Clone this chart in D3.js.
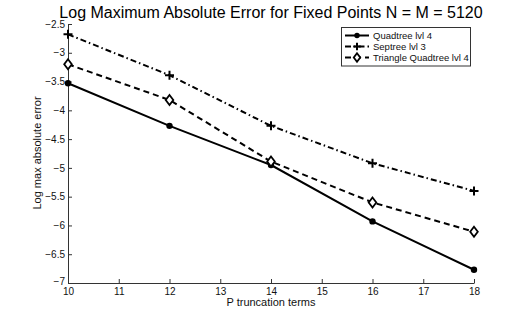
<!DOCTYPE html>
<html><head><meta charset="utf-8">
<script src="https://cdn.jsdelivr.net/npm/d3@7"></script>
<style>
body{margin:0;background:#fff;}
text{font-family:"Liberation Sans",Arial,Helvetica,sans-serif;}
</style></head>
<body><svg id="c" width="524" height="318"></svg>
<script>
const pTerms = [10, 12, 14, 16, 18];
const quadtree = [-3.53, -4.27, -4.95, -5.93, -6.77];
const septree = [-2.68, -3.39, -4.27, -4.92, -5.40];
const triangle = [-3.20, -3.82, -4.89, -5.60, -6.11];
const xTicks = [10, 11, 12, 13, 14, 15, 16, 17, 18];
const yTicks = [-2.5, -3, -3.5, -4, -4.5, -5, -5.5, -6, -6.5, -7];
const seriesNames = ["Quadtree lvl 4", "Septree lvl 3", "Triangle Quadtree lvl 4"];

const svg = d3.select("#c");
const L = 68, R = 474, T = 24, B = 283;
const x = d3.scaleLinear().domain([10, 18]).range([L, R]);
const y = d3.scaleLinear().domain([-7, -2.5]).range([B, T]);
const fmt = v => String(v).replace("-", "\u2212");

// axes
const xa = svg.append("g").attr("transform", `translate(0,${B})`)
  .call(d3.axisBottom(x).tickValues(xTicks).tickSizeInner(-4).tickSizeOuter(0).tickPadding(5).tickFormat(d => d));
const ya = svg.append("g").attr("transform", `translate(${L},0)`)
  .call(d3.axisLeft(y).tickValues(yTicks).tickSizeInner(-4).tickSizeOuter(0).tickPadding(3).tickFormat(fmt));
[xa, ya].forEach(a => {
  a.select(".domain").attr("stroke", "#333").attr("stroke-width", 1);
  a.selectAll(".tick line").attr("stroke", "#333");
  a.selectAll("text").attr("font-size", 10).attr("fill", "#111")
    .attr("font-family", "'Liberation Sans',Arial,sans-serif");
});
ya.selectAll(".tick").filter(d => d === -7).select("text").attr("dy", "0.1em");

// title and labels
svg.append("text").attr("x", 271).attr("y", 18).attr("text-anchor", "middle")
  .attr("font-size", 16).attr("fill", "#000").text("Log Maximum Absolute Error for Fixed Points N = M = 5120");
svg.append("text").attr("x", 271).attr("y", 306).attr("text-anchor", "middle")
  .attr("font-size", 11).attr("fill", "#111").text("P truncation terms");
svg.append("text").attr("transform", "translate(41,153) rotate(-90)").attr("text-anchor", "middle")
  .attr("font-size", 11).attr("fill", "#111").text("Log max absolute error");

const styles = [
  {data: quadtree, dash: null, marker: "circle"},
  {data: septree, dash: "6,3,1.5,3", marker: "plus"},
  {data: triangle, dash: "6,4", marker: "diamond"}
];
function drawMarker(g, type, cx, cy, k) {
  k = k || 1;
  if (type === "circle") {
    g.append("circle").attr("cx", cx).attr("cy", cy).attr("r", 3.2 * k).attr("fill", "#000");
  } else if (type === "plus") {
    g.append("path").attr("d", `M${cx-4.5*k},${cy}H${cx+4.5*k}M${cx},${cy-4.5*k}V${cy+4.5*k}`)
      .attr("stroke", "#000").attr("stroke-width", 2).attr("fill", "none");
  } else {
    g.append("path").attr("d", `M${cx},${cy-5*k}L${cx+3.8*k},${cy}L${cx},${cy+5*k}L${cx-3.8*k},${cy}Z`)
      .attr("stroke", "#000").attr("stroke-width", 1.8).attr("fill", "#fff");
  }
}
const line = d3.line().x((d, i) => x(pTerms[i])).y(d => y(d));
styles.forEach(s => {
  svg.append("path").datum(s.data).attr("d", line).attr("fill", "none")
    .attr("stroke", "#000").attr("stroke-width", 2).attr("stroke-dasharray", s.dash);
});
styles.forEach(s => {
  const g = svg.append("g");
  s.data.forEach((d, i) => drawMarker(g, s.marker, x(pTerms[i]), y(d)));
});

// legend
const lg = svg.append("g");
lg.append("rect").attr("x", 341.5).attr("y", 27.5).attr("width", 129).attr("height", 38.5)
  .attr("fill", "#fff").attr("stroke", "#333").attr("stroke-width", 1);
seriesNames.forEach((n, i) => {
  const yy = 35.5 + i * 11;
  lg.append("path").attr("d", `M345,${yy}H369`).attr("stroke", "#000").attr("stroke-width", 2)
    .attr("stroke-dasharray", styles[i].dash).attr("fill", "none");
  drawMarker(lg, styles[i].marker, 357, yy, 0.85);
  lg.append("text").attr("x", 373).attr("y", yy + 3.5).attr("font-size", 9.5).attr("fill", "#111").text(n);
});
</script></body></html>
